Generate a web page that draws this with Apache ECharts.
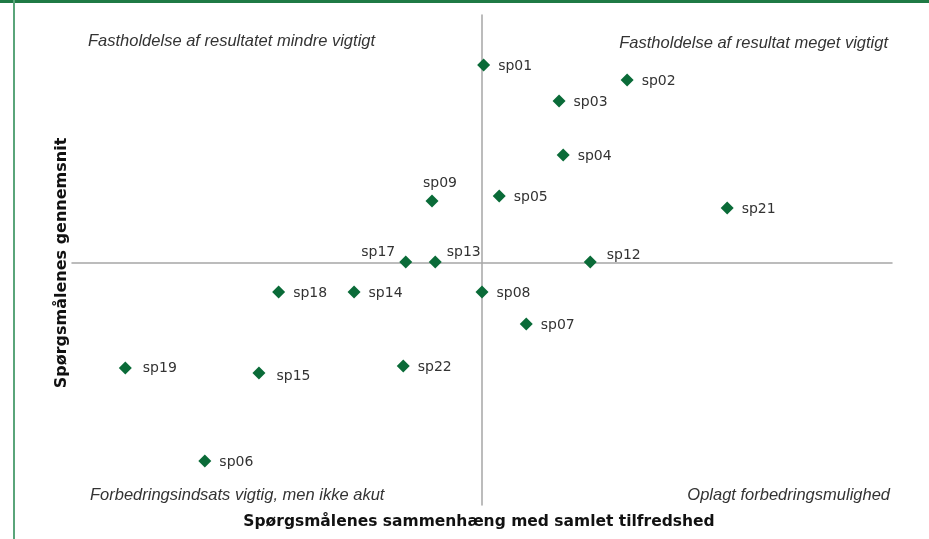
<!DOCTYPE html>
<html><head><meta charset="utf-8">
<script src="https://cdn.jsdelivr.net/npm/echarts@6/dist/echarts.min.js"></script>
<style>html,body{margin:0;padding:0;background:#fff}#c{width:929px;height:539px}</style>
</head><body><div id="c"></div>
<script>
// Data (relative coordinates: x = correlation with overall satisfaction, y = question mean; 0 = quadrant split)
const names   = ['sp01','sp02','sp03','sp04','sp05','sp09','sp21','sp17','sp13','sp12','sp18','sp14','sp08','sp07','sp19','sp15','sp22','sp06'];
const xValues = [0.002, 0.177, 0.094, 0.099, 0.021, -0.061, 0.299, -0.093, -0.057, 0.132, -0.248, -0.156, 0.000, 0.054, -0.435, -0.272, -0.096, -0.338];
const yValues = [0.798, 0.737, 0.652, 0.434, 0.269, 0.248, 0.220, 0.002, 0.002, 0.002, -0.119, -0.119, -0.119, -0.249, -0.426, -0.447, -0.418, -0.802];
const xTitle = 'Spørgsmålenes sammenhæng med samlet tilfredshed';
const yTitle = 'Spørgsmålenes gennemsnit';
const quadrantTexts = ['Fastholdelse af resultatet mindre vigtigt','Fastholdelse af resultat meget vigtigt','Forbedringsindsats vigtig, men ikke akut','Oplagt forbedringsmulighed'];

// label placement (style only)
const labelStyle = {
  sp09: {position:'top', distance:4, offset:[8,0]},
  sp17: {position:'left', distance:4, offset:[0,-10]},
  sp13: {position:'right', distance:5, offset:[0,-10]},
  sp12: {position:'right', distance:10, offset:[0,-7]},
  sp15: {position:'right', distance:11, offset:[0,3]},
  sp19: {position:'right', distance:11, offset:[0,0]}
};

const data = names.map((n,i)=>{
  const ls = labelStyle[n] || {position:'right', distance:8, offset:[0,1]};
  return {value:[xValues[i], yValues[i]], name:n, label:Object.assign({}, ls)};
});

const chart = echarts.init(document.getElementById('c'), null, {renderer:'canvas'});
const qFont = {fontFamily:'Liberation Sans', fontStyle:'italic', fontSize:16.5, fill:'#333'};
chart.setOption({
  animation:false,
  backgroundColor:'#fff',
  grid:{left:72, right:37, top:15, bottom:34},
  xAxis:{type:'value', min:-0.5, max:0.5, axisLine:{onZero:true, lineStyle:{color:'#a6a6a6', width:1.5}}, axisTick:{show:false}, axisLabel:{show:false}, splitLine:{show:false}},
  yAxis:{type:'value', min:-0.98, max:1, axisLine:{onZero:true, lineStyle:{color:'#a6a6a6', width:1.5}}, axisTick:{show:false}, axisLabel:{show:false}, splitLine:{show:false}},
  series:[{
    type:'scatter', symbol:'diamond', symbolSize:13,
    itemStyle:{color:'#0a6b38', opacity:1},
    label:{show:true, formatter:'{b}', color:'#333', fontFamily:'DejaVu Sans', fontSize:14},
    data:data
  }],
  graphic:[
    {type:'rect', left:0, top:0, shape:{width:929, height:3}, style:{fill:'#1f7a45'}},
    {type:'rect', left:13, top:0, shape:{width:2, height:539}, style:{fill:'#5aa57a'}},
    {type:'text', left:88, top:33, style:Object.assign({text:quadrantTexts[0]}, qFont)},
    {type:'text', right:41, top:35, style:Object.assign({text:quadrantTexts[1]}, qFont)},
    {type:'text', left:90, top:487, style:Object.assign({text:quadrantTexts[2]}, qFont)},
    {type:'text', right:39, top:487, style:Object.assign({text:quadrantTexts[3]}, qFont)},
    {type:'text', x:479, y:522, style:{text:xTitle, fontFamily:'DejaVu Sans', fontWeight:'bold', fontSize:15.5, fill:'#111', align:'center', verticalAlign:'middle'}},
    {type:'text', x:62, y:263, rotation:Math.PI/2, style:{text:yTitle, fontFamily:'DejaVu Sans', fontWeight:'bold', fontSize:16, fill:'#111', align:'center', verticalAlign:'middle'}}
  ]
});
</script>
</body></html>
